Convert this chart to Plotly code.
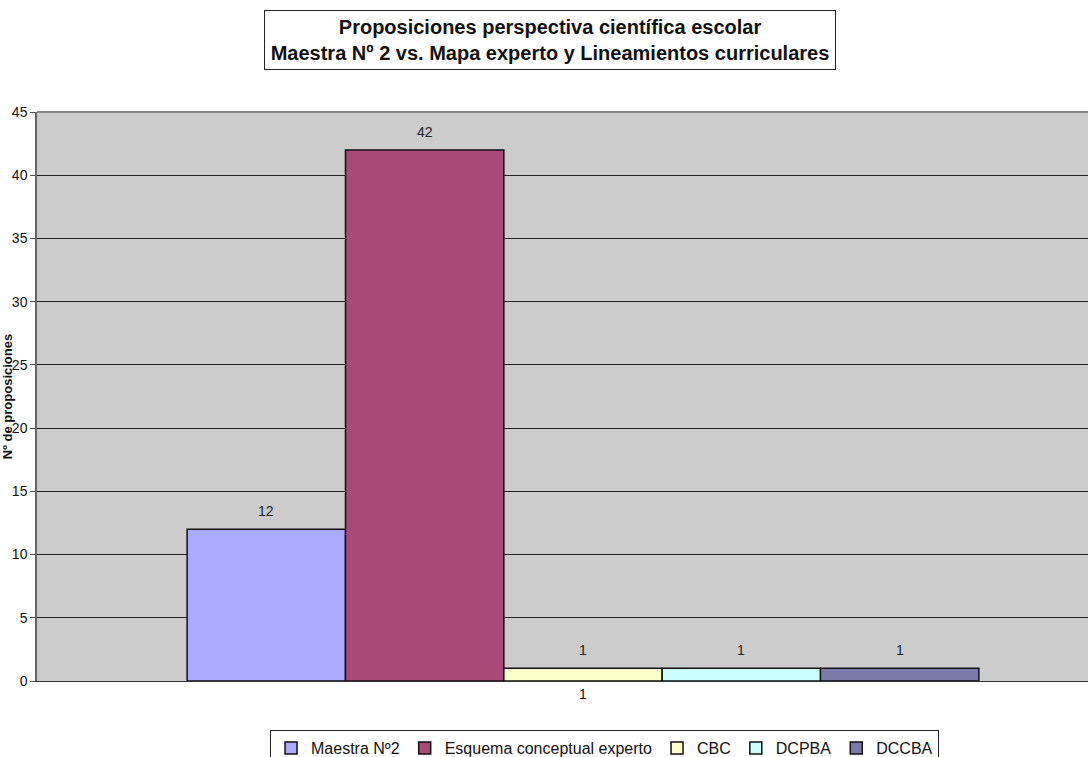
import plotly.graph_objects as go

categories = ["1"]
series_names = ["Maestra Nº2", "Esquema conceptual experto", "CBC", "DCPBA", "DCCBA"]
series_values = [[12], [42], [1], [1], [1]]
series_colors = ["#AAAAFF", "#AA4A78", "#FFFFCC", "#CCFFFF", "#7B7BA9"]
y_ticks = [0, 5, 10, 15, 20, 25, 30, 35, 40, 45]

FONT = "Arial, Liberation Sans, sans-serif"
BARGAP = 0.275
n = len(series_names)
bar_w = (1 - BARGAP) / n

fig = go.Figure()
annotations = []
for i, (name, vals, col) in enumerate(zip(series_names, series_values, series_colors)):
    fig.add_trace(go.Bar(
        x=categories, y=vals, name=name,
        marker=dict(color=col, line=dict(color="#111111", width=1.5)),
    ))
    for ci, v in enumerate(vals):
        annotations.append(dict(
            x=ci + (i - (n - 1) / 2) * bar_w, y=v, xref="x", yref="y",
            text=str(v), showarrow=False, yanchor="bottom", yshift=8,
            font=dict(family=FONT, size=14, color="#222222"),
        ))

annotations.append(dict(
    text="<b>Proposiciones perspectiva científica escolar<br>Maestra Nº 2 vs. Mapa experto y Lineamientos curriculares</b>",
    xref="paper", yref="paper", x=(550 - 37) / 1051, y=1 + (112 - 40) / 569,
    xanchor="center", yanchor="middle", showarrow=False,
    font=dict(family=FONT, size=20, color="#111111"),
    bordercolor="#222222", borderwidth=1, borderpad=1, bgcolor="white",
    width=568, height=56,
))

fig.update_layout(
    width=1088, height=757,
    margin=dict(l=37, r=0, t=112, b=76, autoexpand=False),
    paper_bgcolor="white", plot_bgcolor="#CCCCCC",
    barmode="group", bargap=BARGAP, bargroupgap=0,
    font=dict(family=FONT, size=14, color="#111111"),
    showlegend=True,
    legend=dict(
        orientation="h", x=0.54, xanchor="center", y=-(730 - 681) / 569, yanchor="top",
        bordercolor="#222222", borderwidth=1, bgcolor="white",
        font=dict(family=FONT, size=16, color="#111111"),
        itemwidth=30, tracegroupgap=0,
    ),
    xaxis=dict(
        type="category", range=[-0.5, -0.5 + 1051 / 1092],
        showgrid=False, ticks="", showline=True, linecolor="#333333", linewidth=1,
        tickfont=dict(family=FONT, size=14, color="#111111"),
        fixedrange=True,
    ),
    yaxis=dict(
        range=[0, 45], tickvals=y_ticks, ticks="outside", ticklen=5, tickcolor="#555555",
        showgrid=True, gridcolor="#222222", gridwidth=1,
        showline=True, linecolor="#666666", linewidth=1.5,
        zeroline=False,
        tickfont=dict(family=FONT, size=14, color="#111111"),
        title=dict(text="<b>Nº de proposiciones</b>", font=dict(family=FONT, size=13, color="#111111"), standoff=2),
    ),
    annotations=annotations,
    shapes=[dict(type="line", xref="paper", yref="paper", x0=0, x1=1, y0=1, y1=1,
                 line=dict(color="#888888", width=2))],
)

fig.write_html("out.html")
